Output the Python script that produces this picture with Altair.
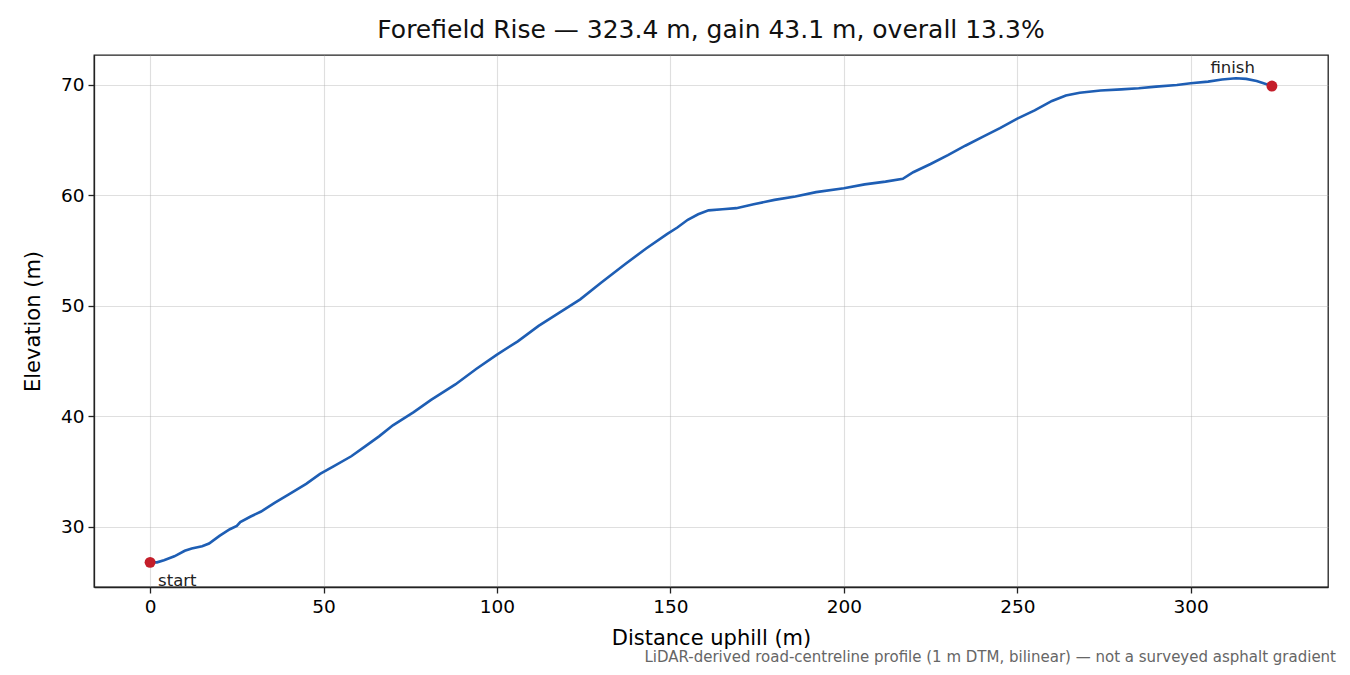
import altair as alt
import pandas as pd

# --- data ---
dist = [0, 2, 4, 7, 10, 12, 15, 17, 20, 23, 25, 26, 29, 32, 36, 40, 45, 49, 53, 58,
        62, 66, 70, 76, 81, 88, 94, 100, 106, 112, 118, 124, 130, 137, 143, 149, 152,
        155, 158, 161, 165, 169, 174, 180, 186, 192, 200, 206, 212, 217, 220, 225, 230,
        235, 240, 245, 250, 255, 260, 264, 268, 274, 280, 285, 290, 296, 300, 305, 309,
        313, 316, 319, 321, 323.4]
elev = [26.8, 26.8, 27.0, 27.35, 27.85, 28.05, 28.25, 28.5, 29.2, 29.8, 30.1, 30.45,
        30.95, 31.4, 32.2, 32.95, 33.9, 34.8, 35.5, 36.4, 37.3, 38.2, 39.2, 40.4, 41.5,
        42.9, 44.3, 45.6, 46.8, 48.2, 49.4, 50.6, 52.1, 53.8, 55.2, 56.5, 57.1, 57.8,
        58.3, 58.65, 58.75, 58.85, 59.2, 59.6, 59.9, 60.3, 60.65, 61.0, 61.25, 61.5,
        62.1, 62.85, 63.65, 64.5, 65.3, 66.1, 66.95, 67.7, 68.55, 69.05, 69.3, 69.5,
        69.6, 69.7, 69.85, 70.0, 70.15, 70.3, 70.5, 70.6, 70.55, 70.35, 70.15, 69.9]

marker_dist = [0, 323.4]
marker_elev = [26.8, 69.9]
marker_label = ["start", "finish"]

x_ticks = [0, 50, 100, 150, 200, 250, 300]
y_ticks = [30, 40, 50, 60, 70]

title_text = "Forefield Rise \u2014 323.4 m, gain 43.1 m, overall 13.3%"
footnote = ["LiDAR-derived road-centreline profile (1 m DTM, bilinear) \u2014 not a surveyed asphalt gradient"]

FONT = "DejaVu Sans"

profile = pd.DataFrame({"dist": dist, "elev": elev})
markers = pd.DataFrame({"dist": marker_dist, "elev": marker_elev, "label": marker_label})
note = pd.DataFrame({"note": footnote})

xs = alt.Scale(domain=[-16.17, 339.57], nice=False, zero=False)
ys = alt.Scale(domain=[24.57, 72.71], nice=False, zero=False)

X = alt.X("dist:Q", scale=xs,
          axis=alt.Axis(values=x_ticks, title="Distance uphill (m)", format="d"))
Y = alt.Y("elev:Q", scale=ys,
          axis=alt.Axis(values=y_ticks, title="Elevation (m)", format="d"))

line = alt.Chart(profile).mark_line(color="#1e5eb4", strokeWidth=2.6).encode(x=X, y=Y)

pts = alt.Chart(markers).mark_circle(color="#c41e2a", size=120, opacity=1).encode(
    x=alt.X("dist:Q", scale=xs), y=alt.Y("elev:Q", scale=ys))

start_lbl = alt.Chart(markers).transform_filter(alt.datum.label == "start").mark_text(
    align="left", baseline="alphabetic", dx=8, dy=24, font=FONT, fontSize=16.5, color="#222"
).encode(x=alt.X("dist:Q", scale=xs), y=alt.Y("elev:Q", scale=ys), text="label:N")

finish_lbl = alt.Chart(markers).transform_filter(alt.datum.label == "finish").mark_text(
    align="right", baseline="alphabetic", dx=-17, dy=-13, font=FONT, fontSize=16.5, color="#222"
).encode(x=alt.X("dist:Q", scale=xs), y=alt.Y("elev:Q", scale=ys), text="label:N")

foot = alt.Chart(note).mark_text(
    align="right", baseline="middle", font=FONT, fontSize=15, color="#666"
).encode(x=alt.value(1242), y=alt.value(602), text="note:N")

chart = alt.layer(line, pts, start_lbl, finish_lbl, foot).properties(
    width=1234, height=532,
    title=alt.TitleParams(title_text, font=FONT, fontSize=25, fontWeight="normal",
                          color="#111", anchor="middle", baseline="alphabetic",
                          offset=12, dy=20),
    autosize=alt.AutoSizeParams(type="none"),
    padding={"left": 86, "top": 47, "right": 14, "bottom": 80},
).configure_view(stroke="#222", strokeWidth=1.3).configure_axis(
    labelFont=FONT, titleFont=FONT, labelFontSize=18.5, titleFontSize=21,
    labelColor="#000", titleColor="#000", titleFontWeight="normal",
    domainColor="#222", domainWidth=1.3, tickColor="#222", tickWidth=1.3, tickSize=6,
    grid=True, gridColor="#b0b0b0", gridOpacity=0.4, gridWidth=1.1,
    labelPadding=4,
).configure_axisX(titlePadding=12).configure_axisY(titlePadding=17)

chart.save("out.html", embed_options={"renderer": "svg", "actions": False})
